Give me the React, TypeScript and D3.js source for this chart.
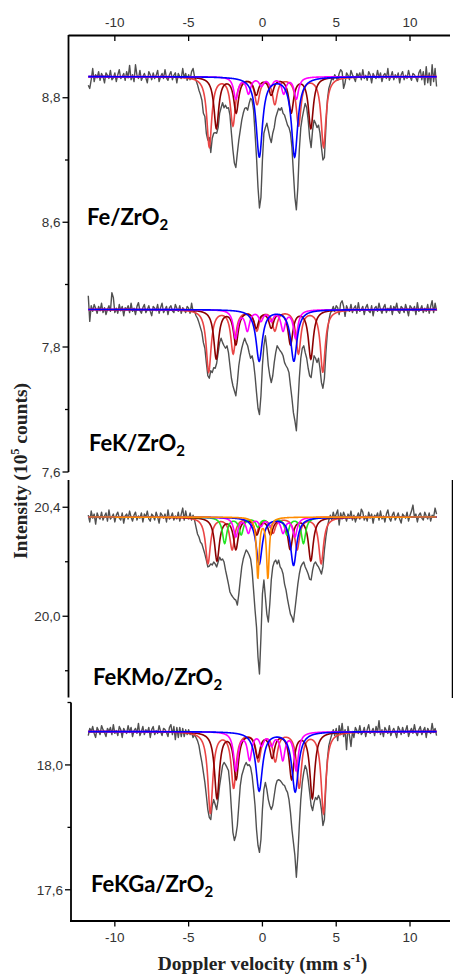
import React from "react";
import * as d3 from "d3";

// ---------- channel grid (mm/s) ----------
const velocityStart = -11.8;
const velocityStep = 0.1;

// ---------- measured spectra (10^5 counts), one value per channel ----------
const countsFe = [
  8.820, 8.815, 8.829, 8.847, 8.826, 8.837, 8.832, 8.842, 8.828, 8.839,
  8.834, 8.824, 8.840, 8.836, 8.831, 8.844, 8.829, 8.832, 8.840, 8.826,
  8.837, 8.845, 8.831, 8.834, 8.839, 8.828, 8.842, 8.832, 8.852, 8.829,
  8.837, 8.826, 8.853, 8.836, 8.831, 8.844, 8.828, 8.834, 8.839, 8.832,
  8.824, 8.842, 8.837, 8.829, 8.840, 8.831, 8.836, 8.844, 8.826, 8.834,
  8.839, 8.831, 8.845, 8.832, 8.828, 8.837, 8.842, 8.829, 8.836, 8.840,
  8.824, 8.839, 8.834, 8.831, 8.847, 8.832, 8.839, 8.828,
  8.837, 8.829, 8.842, 8.847, 8.834,
  8.828, 8.821, 8.812, 8.805, 8.796, 8.775,
  8.770, 8.743, 8.732, 8.736, 8.712, 8.735, 8.743, 8.744, 8.743, 8.752,
  8.775, 8.784, 8.792, 8.784, 8.788, 8.783, 8.784, 8.772, 8.743, 8.716,
  8.695, 8.688, 8.711, 8.732, 8.748, 8.764, 8.775, 8.783, 8.784, 8.780,
  8.791, 8.799, 8.796, 8.780, 8.743, 8.704, 8.656, 8.623, 8.640, 8.700,
  8.743, 8.752, 8.759, 8.748, 8.736, 8.728, 8.743, 8.752, 8.768, 8.776,
  8.783, 8.780, 8.784, 8.775, 8.772, 8.764, 8.756, 8.752, 8.743, 8.720,
  8.679, 8.640, 8.620, 8.656, 8.716, 8.752, 8.768, 8.780, 8.791, 8.784,
  8.764, 8.736, 8.720, 8.748, 8.764, 8.759, 8.752, 8.756, 8.743, 8.720,
  8.700, 8.704, 8.752, 8.796, 8.815, 8.823, 8.831, 8.829, 8.837, 8.832,
  8.828, 8.839, 8.845, 8.842, 8.815, 8.824, 8.840, 8.836, 8.829, 8.844,
  8.837, 8.832, 8.826, 8.839, 8.834, 8.840, 8.829, 8.845, 8.831, 8.836,
  8.828, 8.842, 8.837, 8.824, 8.839, 8.834, 8.831, 8.844, 8.832, 8.840,
  8.826, 8.836, 8.839, 8.831, 8.847, 8.828, 8.834, 8.842, 8.829, 8.837,
  8.832, 8.840, 8.824, 8.837, 8.842, 8.829, 8.836, 8.831, 8.844, 8.834,
  8.828, 8.839, 8.837, 8.832, 8.826, 8.840, 8.845, 8.829, 8.842, 8.821,
  8.850, 8.824, 8.840, 8.820, 8.853, 8.826, 8.847, 8.818,
];

const countsFeK = [
  7.882, 7.841, 7.866, 7.857, 7.868, 7.862, 7.854, 7.865, 7.858, 7.870,
  7.855, 7.863, 7.852, 7.860, 7.866, 7.857, 7.887, 7.879, 7.855, 7.862,
  7.854, 7.868, 7.858, 7.865, 7.850, 7.863, 7.860, 7.866, 7.855, 7.870,
  7.857, 7.862, 7.852, 7.865, 7.871, 7.858, 7.854, 7.863, 7.868, 7.855,
  7.860, 7.866, 7.857, 7.850, 7.865, 7.862, 7.858, 7.868, 7.854, 7.863,
  7.870, 7.855, 7.860, 7.865, 7.852, 7.863, 7.866, 7.858, 7.855, 7.868,
  7.862, 7.857, 7.866, 7.854, 7.863, 7.860, 7.855, 7.865,
  7.862, 7.854, 7.870, 7.857, 7.858,
  7.850, 7.846, 7.839, 7.831, 7.823, 7.807,
  7.798, 7.775, 7.754, 7.750, 7.762, 7.759, 7.767, 7.766, 7.774, 7.791,
  7.807, 7.814, 7.807, 7.802, 7.798, 7.802, 7.791, 7.770, 7.750, 7.738,
  7.730, 7.722, 7.743, 7.770, 7.786, 7.798, 7.807, 7.814, 7.807, 7.802,
  7.791, 7.782, 7.786, 7.775, 7.754, 7.727, 7.702, 7.692, 7.722, 7.770,
  7.802, 7.818, 7.798, 7.770, 7.754, 7.743, 7.754, 7.775, 7.791, 7.802,
  7.798, 7.794, 7.791, 7.786, 7.775, 7.770, 7.766, 7.759, 7.738, 7.718,
  7.695, 7.682, 7.666, 7.706, 7.750, 7.782, 7.798, 7.802, 7.791, 7.782,
  7.766, 7.754, 7.751, 7.770, 7.786, 7.782, 7.775, 7.782, 7.766, 7.743,
  7.734, 7.750, 7.791, 7.823, 7.842, 7.854, 7.858, 7.865, 7.857, 7.866,
  7.863, 7.852, 7.870, 7.874, 7.865, 7.849, 7.866, 7.860, 7.857, 7.868,
  7.855, 7.862, 7.866, 7.854, 7.871, 7.857, 7.860, 7.865, 7.852, 7.863,
  7.868, 7.858, 7.855, 7.866, 7.850, 7.862, 7.865, 7.857, 7.870, 7.860,
  7.854, 7.863, 7.868, 7.855, 7.862, 7.858, 7.866, 7.852, 7.865, 7.860,
  7.870, 7.857, 7.854, 7.865, 7.862, 7.855, 7.868, 7.860, 7.850, 7.866,
  7.863, 7.858, 7.865, 7.852, 7.871, 7.857, 7.860, 7.866, 7.855, 7.862,
  7.857, 7.868, 7.854, 7.865, 7.874, 7.855, 7.870, 7.858,
];

const countsFeKMo = [
  20.371, 20.346, 20.386, 20.360, 20.375, 20.338, 20.379, 20.364, 20.357, 20.382,
  20.353, 20.368, 20.379, 20.349, 20.390, 20.357, 20.364, 20.375, 20.346, 20.371,
  20.382, 20.360, 20.353, 20.379, 20.342, 20.368, 20.375, 20.357, 20.386, 20.364,
  20.349, 20.371, 20.382, 20.353, 20.368, 20.360, 20.379, 20.346, 20.375, 20.364,
  20.386, 20.357, 20.349, 20.375, 20.368, 20.353, 20.382, 20.364, 20.342, 20.379,
  20.371, 20.360, 20.375, 20.346, 20.390, 20.357, 20.364, 20.379, 20.353, 20.368,
  20.357, 20.382, 20.349, 20.375, 20.397, 20.353, 20.386, 20.360,
  20.357, 20.379, 20.353, 20.371, 20.353,
  20.327, 20.302, 20.291, 20.272, 20.265, 20.247,
  20.228, 20.206, 20.181, 20.184, 20.192, 20.188, 20.199, 20.192, 20.181, 20.199,
  20.217, 20.206, 20.210, 20.199, 20.169, 20.144, 20.118, 20.089, 20.078, 20.070,
  20.063, 20.059, 20.041, 20.081, 20.133, 20.181, 20.210, 20.228, 20.243, 20.236,
  20.225, 20.210, 20.169, 20.096, 20.023, 19.960, 19.850, 19.788, 19.924, 20.081,
  20.133, 20.070, 20.008, 19.979, 20.045, 20.133, 20.181, 20.199, 20.206, 20.192,
  20.206, 20.181, 20.173, 20.155, 20.118, 20.096, 20.063, 20.034, 20.008, 19.997,
  19.979, 20.023, 20.070, 20.118, 20.155, 20.181, 20.192, 20.199, 20.181, 20.169,
  20.155, 20.136, 20.133, 20.169, 20.192, 20.199, 20.188, 20.181, 20.169, 20.155,
  20.181, 20.243, 20.291, 20.327, 20.353, 20.371, 20.353, 20.382, 20.360, 20.375,
  20.390, 20.335, 20.379, 20.357, 20.382, 20.368, 20.349, 20.375, 20.360, 20.386,
  20.353, 20.371, 20.346, 20.364, 20.379, 20.357, 20.393, 20.382, 20.353, 20.368,
  20.349, 20.382, 20.360, 20.375, 20.342, 20.371, 20.364, 20.379, 20.353, 20.386,
  20.357, 20.368, 20.346, 20.375, 20.390, 20.360, 20.349, 20.371, 20.382, 20.353,
  20.364, 20.379, 20.357, 20.342, 20.375, 20.368, 20.360, 20.382, 20.349, 20.371,
  20.386, 20.408, 20.364, 20.375, 20.346, 20.371, 20.379, 20.360, 20.353, 20.382,
  20.368, 20.357, 20.379, 20.349, 20.371, 20.364, 20.397, 20.375,
];

const countsFeKGa = [
  18.094, 18.117, 18.107, 18.123, 18.101, 18.088, 18.120, 18.110, 18.097, 18.126,
  18.113, 18.104, 18.091, 18.117, 18.107, 18.120, 18.097, 18.129, 18.101, 18.110,
  18.094, 18.123, 18.113, 18.088, 18.117, 18.107, 18.101, 18.126, 18.104, 18.120,
  18.091, 18.110, 18.117, 18.101, 18.133, 18.094, 18.107, 18.123, 18.097, 18.113,
  18.104, 18.120, 18.088, 18.113, 18.123, 18.097, 18.110, 18.101, 18.126, 18.107,
  18.094, 18.117, 18.113, 18.104, 18.091, 18.120, 18.129, 18.097, 18.123, 18.081,
  18.120, 18.088, 18.120, 18.091, 18.117, 18.091, 18.113, 18.097,
  18.113, 18.097, 18.104, 18.088, 18.097,
  18.088, 18.078, 18.062, 18.033, 18.008, 17.976,
  17.944, 17.902, 17.857, 17.832, 17.825, 17.870, 17.889, 17.873, 17.857, 17.889,
  17.934, 17.966, 17.998, 18.008, 18.001, 17.992, 17.982, 17.934, 17.857, 17.784,
  17.758, 17.774, 17.806, 17.870, 17.934, 17.966, 17.982, 17.998, 18.008, 17.998,
  18.001, 17.992, 17.966, 17.921, 17.870, 17.793, 17.742, 17.720, 17.761, 17.857,
  17.921, 17.944, 17.921, 17.889, 17.870, 17.857, 17.870, 17.902, 17.934, 17.950,
  17.953, 17.950, 17.944, 17.937, 17.934, 17.921, 17.912, 17.889, 17.848, 17.793,
  17.752, 17.710, 17.640, 17.710, 17.806, 17.889, 17.944, 17.976, 17.998, 17.985,
  17.953, 17.912, 17.870, 17.854, 17.880, 17.896, 17.889, 17.902, 17.889, 17.857,
  17.806, 17.825, 17.934, 18.017, 18.062, 18.081, 18.097, 18.113, 18.094, 18.117,
  18.078, 18.126, 18.097, 18.133, 18.091, 18.113, 18.049, 18.123, 18.094, 18.059,
  18.107, 18.088, 18.120, 18.110, 18.101, 18.126, 18.097, 18.104, 18.120, 18.091,
  18.113, 18.129, 18.101, 18.107, 18.117, 18.094, 18.123, 18.104, 18.142, 18.097,
  18.113, 18.091, 18.120, 18.110, 18.101, 18.126, 18.094, 18.107, 18.117, 18.104,
  18.088, 18.123, 18.113, 18.097, 18.120, 18.101, 18.110, 18.126, 18.091, 18.107,
  18.117, 18.101, 18.129, 18.104, 18.094, 18.113, 18.123, 18.097, 18.110, 18.120,
  18.088, 18.117, 18.107, 18.101, 18.133, 18.104, 18.117, 18.094,
];

// ---------- fitted subspectra: line positions (mm/s), depths (10^5 counts), HWHM ----------
const fitBaselines = [8.834, 7.86, 20.364, 18.107];

const feSextet1Pos = [-3.6, -2.0, -0.36, 0.84, 2.45, 4.14];
const feSextet1Depth = [0.112, 0.077, 0.042, 0.042, 0.077, 0.112];
const feSextet2Pos = [-3.12, -1.78, -0.42, 0.6, 1.95, 3.28];
const feSextet2Depth = [0.082, 0.056, 0.027, 0.027, 0.056, 0.082];
const feSextet3Pos = [-1.8, -0.94, -0.07, 0.57, 1.44, 2.3];
const feSextet3Depth = [0.035, 0.026, 0.013, 0.013, 0.026, 0.035];
const feDoubletPos = [-0.21, 2.18];
const feDoubletDepth = [0.128, 0.128];

const feKSextet1Pos = [-3.64, -1.98, -0.38, 0.84, 2.44, 4.09];
const feKSextet1Depth = [0.099, 0.069, 0.032, 0.032, 0.069, 0.099];
const feKSextet2Pos = [-3.13, -1.8, -0.42, 0.6, 1.9, 3.28];
const feKSextet2Depth = [0.078, 0.054, 0.027, 0.027, 0.054, 0.078];
const feKSextet3Pos = [-1.82, -1.02, -0.1, 0.6, 1.4, 2.25];
const feKSextet3Depth = [0.045, 0.032, 0.016, 0.016, 0.032, 0.045];
const feKDoubletPos = [-0.22, 2.13];
const feKDoubletDepth = [0.082, 0.082];

const feKMoSextet1Pos = [-3.69, -2.05, -0.42, 0.72, 2.35, 3.98];
const feKMoSextet1Depth = [0.169, 0.117, 0.055, 0.055, 0.117, 0.169];
const feKMoSextet2Pos = [-3.08, -1.8, -0.38, 0.55, 1.88, 3.28];
const feKMoSextet2Depth = [0.158, 0.114, 0.059, 0.059, 0.114, 0.158];
const feKMoSextet4Pos = [-2.56, -1.44, -0.31, 0.53, 1.66, 2.78];
const feKMoSextet4Depth = [0.095, 0.062, 0.033, 0.033, 0.062, 0.095];
const feKMoSextet3Pos = [-1.8, -0.95, -0.1, 0.55, 1.4, 2.2];
const feKMoSextet3Depth = [0.07, 0.055, 0.029, 0.029, 0.055, 0.07];
const feKMoDoubletPos = [-0.22, 2.11];
const feKMoDoubletDepth = [0.172, 0.176];
const feKMoDoublet2Pos = [-0.31, 0.37];
const feKMoDoublet2Depth = [0.22, 0.22];

const feKGaSextet1Pos = [-3.53, -1.95, -0.27, 0.87, 2.49, 4.14];
const feKGaSextet1Depth = [0.259, 0.176, 0.09, 0.09, 0.176, 0.259];
const feKGaSextet2Pos = [-3.08, -1.78, -0.32, 0.66, 1.98, 3.38];
const feKGaSextet2Depth = [0.211, 0.147, 0.077, 0.077, 0.147, 0.211];
const feKGaSextet3Pos = [-1.8, -0.87, -0.05, 0.62, 1.38, 2.29];
const feKGaSextet3Depth = [0.122, 0.086, 0.038, 0.038, 0.086, 0.122];
const feKGaDoubletPos = [-0.22, 2.22];
const feKGaDoubletDepth = [0.189, 0.192];

// ---------- ticks ----------
const velocityTicks = [-10, -5, 0, 5, 10];
const feMajor = [8.6, 8.8];
const feMinor = [8.5, 8.7];
const feKMajor = [7.6, 7.8];
const feKMinor = [7.7];
const feKMoMajor = [20.0, 20.4];
const feKMoMinor = [19.8, 20.2];
const feKGaMajor = [17.6, 18.0];
const feKGaMinor = [17.8, 18.2];

const sampleLabels = ["Fe/ZrO", "FeK/ZrO", "FeKMo/ZrO", "FeKGa/ZrO"];

// ---------- styling ----------
const C = {
  red: "#ea4545",
  dark: "#8b0000",
  magenta: "#ff00ff",
  blue: "#0000ff",
  green: "#22e622",
  orange: "#ff8c00",
  data: "#505050",
};

const xScale = d3.scaleLinear().domain([-13.14, 12.71]).range([68.5, 450]);

const fitGrid = d3.range(-11.8, 11.8001, 0.02);

function comp(pos: number[], depth: number[], gamma: number, color: string) {
  return { pos, depth, gamma, color };
}

const panels = [
  {
    counts: countsFe,
    base: fitBaselines[0],
    y: d3.scaleLinear().domain([8.5, 8.9]).range([284.5, 35.5]),
    axisX: 68.5,
    major: feMajor,
    minor: feMinor,
    label: sampleLabels[0],
    lx: 87,
    ly: 225,
    comps: [
      comp(feSextet1Pos, feSextet1Depth, 0.2, C.red),
      comp(feSextet2Pos, feSextet2Depth, 0.2, C.dark),
      comp(feSextet3Pos, feSextet3Depth, 0.18, C.magenta),
      comp(feDoubletPos, feDoubletDepth, 0.26, C.blue),
    ],
  },
  {
    counts: countsFeK,
    base: fitBaselines[1],
    y: d3.scaleLinear().domain([7.6, 7.9]).range([472, 284.5]),
    axisX: 68.5,
    major: feKMajor,
    minor: feKMinor,
    label: sampleLabels[1],
    lx: 89,
    ly: 451,
    comps: [
      comp(feKSextet1Pos, feKSextet1Depth, 0.2, C.red),
      comp(feKSextet2Pos, feKSextet2Depth, 0.2, C.dark),
      comp(feKSextet3Pos, feKSextet3Depth, 0.18, C.magenta),
      comp(feKDoubletPos, feKDoubletDepth, 0.26, C.blue),
    ],
  },
  {
    counts: countsFeKMo,
    base: fitBaselines[2],
    y: d3.scaleLinear().domain([19.7, 20.5]).range([698, 480]),
    axisX: 68.5,
    major: feKMoMajor,
    minor: feKMoMinor,
    label: sampleLabels[2],
    lx: 93,
    ly: 685,
    comps: [
      comp(feKMoSextet1Pos, feKMoSextet1Depth, 0.2, C.red),
      comp(feKMoSextet2Pos, feKMoSextet2Depth, 0.2, C.dark),
      comp(feKMoSextet4Pos, feKMoSextet4Depth, 0.18, C.green),
      comp(feKMoSextet3Pos, feKMoSextet3Depth, 0.18, C.magenta),
      comp(feKMoDoubletPos, feKMoDoubletDepth, 0.25, C.blue),
      comp(feKMoDoublet2Pos, feKMoDoublet2Depth, 0.11, C.orange),
    ],
  },
  {
    counts: countsFeKGa,
    base: fitBaselines[3],
    y: d3.scaleLinear().domain([17.5, 18.2]).range([921, 702.5]),
    axisX: 71,
    major: feKGaMajor,
    minor: feKGaMinor,
    label: sampleLabels[3],
    lx: 91,
    ly: 892,
    comps: [
      comp(feKGaSextet1Pos, feKGaSextet1Depth, 0.2, C.red),
      comp(feKGaSextet2Pos, feKGaSextet2Depth, 0.2, C.dark),
      comp(feKGaSextet3Pos, feKGaSextet3Depth, 0.18, C.magenta),
      comp(feKGaDoubletPos, feKGaDoubletDepth, 0.27, C.blue),
    ],
  },
];

const fmt = (v: number) => d3.format(".1f")(v).replace(".", ",");

export default function App() {
  const tickFont = "'Liberation Sans', Arial, sans-serif";
  return (
    <svg
      width={453}
      height={975}
      viewBox="0 0 453 975"
      style={{ position: "absolute", left: 0, top: 0, background: "#fff" }}
    >
      <rect x={0} y={0} width={453} height={975} fill="#fff" />
      {panels.map((p, pi) => {
        const line = d3
          .line<[number, number]>()
          .x((d) => xScale(d[0]))
          .y((d) => p.y(d[1]));
        const dataPts: [number, number][] = p.counts.map((c, i) => [
          velocityStart + i * velocityStep,
          c,
        ]);
        return (
          <g key={pi}>
            <path d={line(dataPts) || ""} fill="none" stroke={C.data} strokeWidth={1.4} strokeLinejoin="round" />
            {p.comps.map((cp, ci) => {
              const pts: [number, number][] = fitGrid.map((v) => [
                v,
                p.base -
                  d3.sum(cp.pos, (q, k) => cp.depth[k] / (1 + ((v - q) / cp.gamma) ** 2)),
              ]);
              return (
                <path key={ci} d={line(pts) || ""} fill="none" stroke={cp.color} strokeWidth={1.6} />
              );
            })}
            {p.major.map((t) => (
              <g key={"M" + t}>
                <line x1={p.axisX - 6} x2={p.axisX} y1={p.y(t)} y2={p.y(t)} stroke="#000" strokeWidth={1.3} />
                <text x={p.axisX - 8} y={p.y(t)} dy="0.35em" textAnchor="end" fontFamily={tickFont} fontSize={13.5} fill="#333">
                  {fmt(t)}
                </text>
              </g>
            ))}
            {p.minor.map((t) => (
              <line key={"m" + t} x1={p.axisX - 3.5} x2={p.axisX} y1={p.y(t)} y2={p.y(t)} stroke="#000" strokeWidth={1.3} />
            ))}
            <text x={p.lx} y={p.ly} fontFamily="Lato, 'Open Sans', sans-serif" fontWeight="bold" fontSize={22} fill="#000">
              {p.label}
              <tspan fontSize={15} dy={5}>2</tspan>
            </text>
          </g>
        );
      })}

      {/* frame lines */}
      <line x1={68.5} x2={450} y1={35.5} y2={35.5} stroke="#000" strokeWidth={1.8} />
      <line x1={68.5} x2={68.5} y1={35} y2={472} stroke="#000" strokeWidth={1.8} />
      <line x1={68.5} x2={68.5} y1={480} y2={697.5} stroke="#000" strokeWidth={1.8} />
      <line x1={452.5} x2={452.5} y1={480} y2={698} stroke="#000" strokeWidth={1.5} />
      <line x1={71} x2={71} y1={702.5} y2={921.5} stroke="#000" strokeWidth={1.8} />
      <line x1={70} x2={450} y1={921} y2={921} stroke="#000" strokeWidth={1.8} />

      {/* top velocity axis */}
      {velocityTicks.map((t) => (
        <g key={"t" + t}>
          <line x1={xScale(t)} x2={xScale(t)} y1={35.5} y2={41} stroke="#000" strokeWidth={1.3} />
          <text x={xScale(t)} y={27} textAnchor="middle" fontFamily={tickFont} fontSize={13.5} fill="#333">
            {t}
          </text>
        </g>
      ))}
      {/* bottom velocity axis */}
      {velocityTicks.map((t) => (
        <g key={"b" + t}>
          <line x1={xScale(t)} x2={xScale(t)} y1={921} y2={926.5} stroke="#000" strokeWidth={1.3} />
          <text x={xScale(t)} y={942} textAnchor="middle" fontFamily={tickFont} fontSize={13.5} fill="#333">
            {t}
          </text>
        </g>
      ))}

      <text
        x={262.5}
        y={970}
        textAnchor="middle"
        fontFamily="'Liberation Serif', 'Times New Roman', serif"
        fontWeight="bold"
        fontSize={19.5}
        fill="#222"
      >
        Doppler velocity (mm s
        <tspan fontSize={12} dy={-8}>-1</tspan>
        <tspan dy={8}>)</tspan>
      </text>
      <text
        transform="translate(27,471) rotate(-90)"
        textAnchor="middle"
        fontFamily="'Liberation Serif', 'Times New Roman', serif"
        fontWeight="bold"
        fontSize={19.5}
        fill="#222"
      >
        Intensity (10
        <tspan fontSize={12} dy={-8}>5</tspan>
        <tspan dy={8}> counts)</tspan>
      </text>
    </svg>
  );
}
